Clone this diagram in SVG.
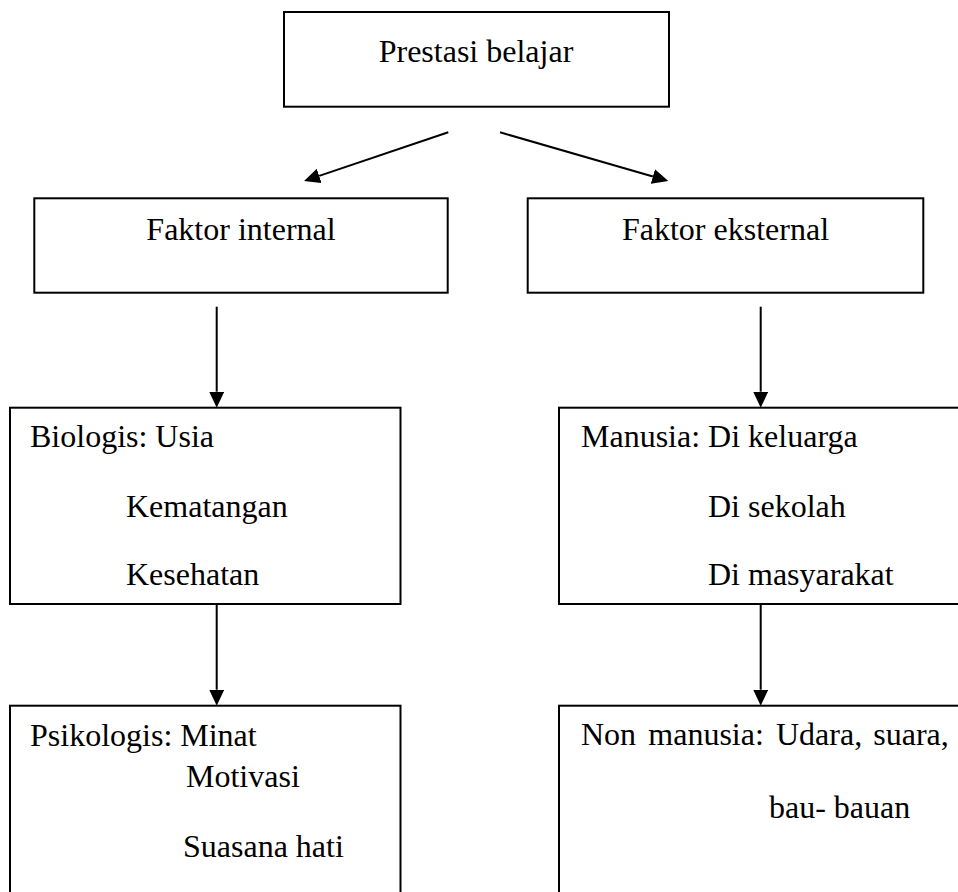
<svg xmlns="http://www.w3.org/2000/svg" width="958" height="892" viewBox="0 0 958 892">
<style>
.box{fill:none;stroke:#000;stroke-width:2}
.t{font-family:"Liberation Serif","Times New Roman",serif;font-size:32px;fill:#000}
.m{text-anchor:middle}
.c{stroke:#000;stroke-width:2;fill:none}
</style>
<defs>
<marker id="ah" markerUnits="userSpaceOnUse" markerWidth="17" markerHeight="16" refX="0" refY="7.5" orient="auto">
<path d="M0,0 L16,7.5 L0,15 z" fill="#000"/>
</marker>
</defs>
<rect width="958" height="892" fill="#fff"/>
<g id="connectors">
<line class="c" x1="448.3" y1="132.3" x2="319.2" y2="175.9" marker-end="url(#ah)"/>
<line class="c" x1="500" y1="132.3" x2="652.9" y2="176.5" marker-end="url(#ah)"/>
<line class="c" x1="216.7" y1="306.7" x2="216.7" y2="391.7" marker-end="url(#ah)"/>
<line class="c" x1="760.7" y1="306.7" x2="760.7" y2="391.7" marker-end="url(#ah)"/>
<line class="c" x1="216.7" y1="604" x2="216.7" y2="689.7" marker-end="url(#ah)"/>
<line class="c" x1="760.7" y1="604" x2="760.7" y2="689.7" marker-end="url(#ah)"/>
</g>
<g id="prestasi">
<rect class="box" x="284" y="12" width="385" height="94.7"/>
<text class="t m" x="476" y="62">Prestasi belajar</text>
</g>
<g id="internal">
<rect class="box" x="34.3" y="198.3" width="413.4" height="94.4"/>
<text class="t m" x="241" y="240">Faktor internal</text>
</g>
<g id="eksternal">
<rect class="box" x="527.7" y="198.3" width="395.6" height="94.4"/>
<text class="t m" x="725.5" y="240">Faktor eksternal</text>
</g>
<g id="biologis">
<rect class="box" x="10" y="407.7" width="390.5" height="196.3"/>
<text class="t" x="30" y="447">Biologis: Usia</text>
<text class="t" x="126" y="517">Kematangan</text>
<text class="t" x="126" y="585">Kesehatan</text>
</g>
<g id="manusia">
<rect class="box" x="559" y="407.7" width="420" height="196.3"/>
<text class="t" x="581" y="447">Manusia: Di keluarga</text>
<text class="t" x="708" y="517">Di sekolah</text>
<text class="t" x="708" y="585">Di masyarakat</text>
</g>
<g id="psikologis">
<rect class="box" x="10" y="705.7" width="390.5" height="210"/>
<text class="t" x="30" y="746">Psikologis: Minat</text>
<text class="t" x="186" y="787">Motivasi</text>
<text class="t" x="183" y="857">Suasana hati</text>
</g>
<g id="nonmanusia">
<rect class="box" x="559" y="705.7" width="420" height="210"/>
<text class="t" y="745"><tspan x="581">Non</tspan><tspan x="648.3">manusia:</tspan><tspan x="776">Udara,</tspan><tspan x="873.3">suara,</tspan></text>
<text class="t" x="769" y="818">bau- bauan</text>
</g>
</svg>
